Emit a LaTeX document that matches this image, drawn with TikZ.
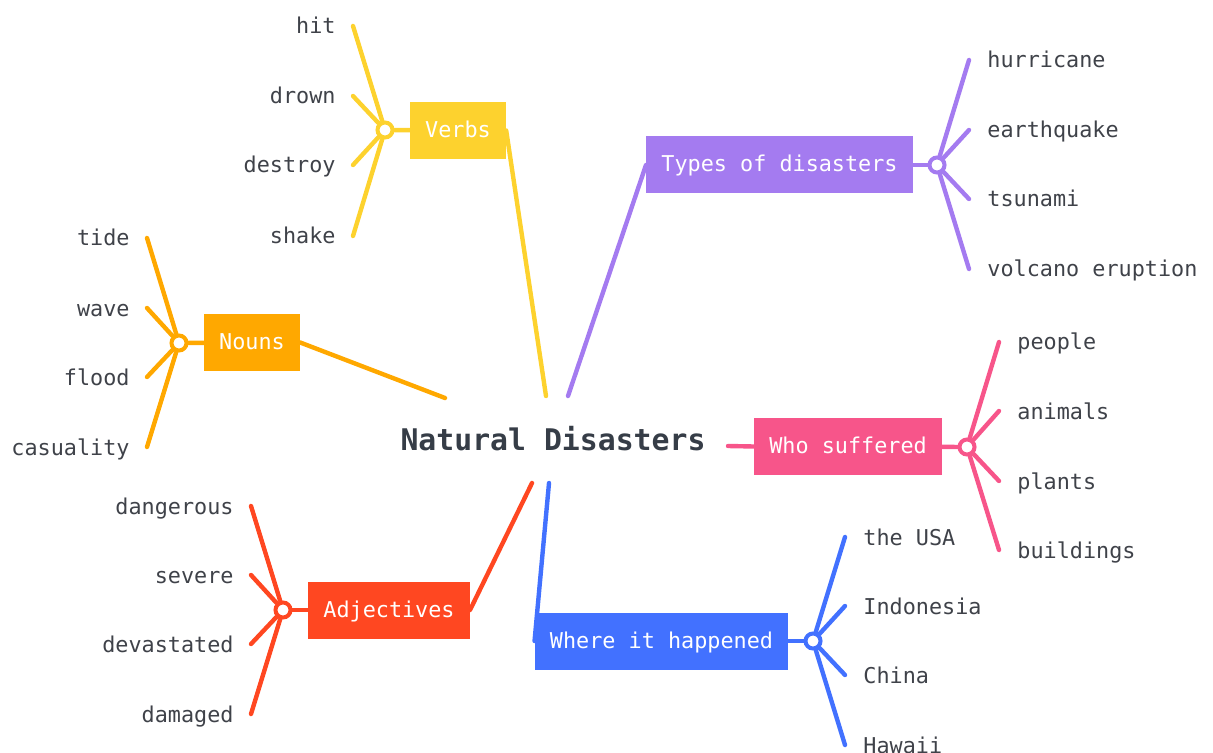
\documentclass[tikz,border=0pt]{standalone}
\usepackage{fontspec}
\setmonofont{DejaVu Sans Mono}
\usepackage{xcolor}
\usetikzlibrary{positioning}

\definecolor{verbcol}{HTML}{FDD22E}
\definecolor{nouncol}{HTML}{FFA800}
\definecolor{typecol}{HTML}{A47BF0}
\definecolor{whocol}{HTML}{F7558A}
\definecolor{adjcol}{HTML}{FF4721}
\definecolor{wherecol}{HTML}{4271FF}
\definecolor{leafgray}{HTML}{3F4249}
\definecolor{rootgray}{HTML}{363D47}

\tikzset{
    branch/.style={fill=#1, text=white, minimum height=28.5pt, inner xsep=7.5pt,
        text height=7pt, text depth=0pt, font=\ttfamily\fontsize{10.9}{13}\selectfont},
    hub/.style={circle, draw=#1, fill=white, line width=2pt, minimum size=7.5pt, inner sep=0pt},
    leaf/.style={text=leafgray, inner sep=0pt, yshift=-4pt, font=\ttfamily\fontsize{10.9}{13}\selectfont},
    twig/.style={draw=#1, line width=2.2pt, line cap=round}
}

\begin{document}
\begin{tikzpicture}[x=0.5pt, y=-0.5pt]
    \useasboundingbox (0,0) rectangle (1213,753);

    \node[text=rootgray, text height=12pt, text depth=0pt, inner sep=0pt,
        font=\ttfamily\bfseries\fontsize{14.9}{17}\selectfont] (root) at (553,438) {Natural Disasters};

    % branch boxes
    \node[branch=verbcol] (verbs) at (458,130.5) {Verbs};
    \node[branch=typecol] (types) at (779.5,165) {Types of disasters};
    \node[branch=nouncol] (nouns) at (252,342.5) {Nouns};
    \node[branch=whocol] (who) at (848,446.5) {Who suffered};
    \node[branch=adjcol] (adj) at (389,610) {Adjectives};
    \node[branch=wherecol] (where) at (661.5,641) {Where it happened};

    % ends of the lines at the root
    \coordinate (root-verbs) at (546,396);
    \coordinate (root-types) at (568,396);
    \coordinate (root-nouns) at (445,398);
    \coordinate (root-who) at (728,446);
    \coordinate (root-adj) at (532,483);
    \coordinate (root-where) at (549,483);

    \draw[twig=verbcol] (root-verbs) -- (verbs.east);
    \draw[twig=typecol] (root-types) -- (types.west);
    \draw[twig=nouncol] (root-nouns) -- (nouns.east);
    \draw[twig=whocol] (root-who) -- (who.west);
    \draw[twig=adjcol] (root-adj) -- (adj.east);
    \draw[twig=wherecol] (root-where) -- (where.west);

    % hubs
    \node[hub=verbcol] (verbs-hub) at (385,130) {};
    \node[hub=typecol] (types-hub) at (937,165) {};
    \node[hub=nouncol] (nouns-hub) at (179,343) {};
    \node[hub=whocol] (who-hub) at (967,447) {};
    \node[hub=adjcol] (adj-hub) at (283,610) {};
    \node[hub=wherecol] (where-hub) at (813,641) {};

    \draw[twig=verbcol] (verbs) -- (verbs-hub);
    \draw[twig=typecol] (types) -- (types-hub);
    \draw[twig=nouncol] (nouns) -- (nouns-hub);
    \draw[twig=whocol] (who) -- (who-hub);
    \draw[twig=adjcol] (adj) -- (adj-hub);
    \draw[twig=wherecol] (where) -- (where-hub);

    % leaves, left side
    \foreach \word/\y [count=\i] in {hit/26, drown/96, destroy/165, shake/236} {
        \coordinate (verbs-end-\i) at (353,\y);
        \node[leaf, anchor=base east] (verbs-\i) at (336,\y) {\word};
        \draw[twig=verbcol] (verbs-hub) -- (verbs-end-\i);
    }
    \foreach \word/\y [count=\i] in {tide/238, wave/308, flood/377, casuality/447} {
        \coordinate (nouns-end-\i) at (147,\y);
        \node[leaf, anchor=base east] (nouns-\i) at (130,\y) {\word};
        \draw[twig=nouncol] (nouns-hub) -- (nouns-end-\i);
    }
    \foreach \word/\y [count=\i] in {dangerous/506, severe/575, devastated/644, damaged/714} {
        \coordinate (adj-end-\i) at (251,\y);
        \node[leaf, anchor=base east] (adj-\i) at (234,\y) {\word};
        \draw[twig=adjcol] (adj-hub) -- (adj-end-\i);
    }

    % leaves, right side
    \foreach \word/\y [count=\i] in {hurricane/60, earthquake/130, tsunami/199, volcano eruption/269} {
        \coordinate (types-end-\i) at (969,\y);
        \node[leaf, anchor=base west] (types-\i) at (987,\y) {\word};
        \draw[twig=typecol] (types-hub) -- (types-end-\i);
    }
    \foreach \word/\y [count=\i] in {people/342, animals/411, plants/481, buildings/550} {
        \coordinate (who-end-\i) at (999,\y);
        \node[leaf, anchor=base west] (who-\i) at (1017,\y) {\word};
        \draw[twig=whocol] (who-hub) -- (who-end-\i);
    }
    \foreach \word/\y [count=\i] in {the USA/537, Indonesia/606, China/675, Hawaii/745} {
        \coordinate (where-end-\i) at (845,\y);
        \node[leaf, anchor=base west] (where-\i) at (863,\y) {\word};
        \draw[twig=wherecol] (where-hub) -- (where-end-\i);
    }
\end{tikzpicture}
\end{document}
